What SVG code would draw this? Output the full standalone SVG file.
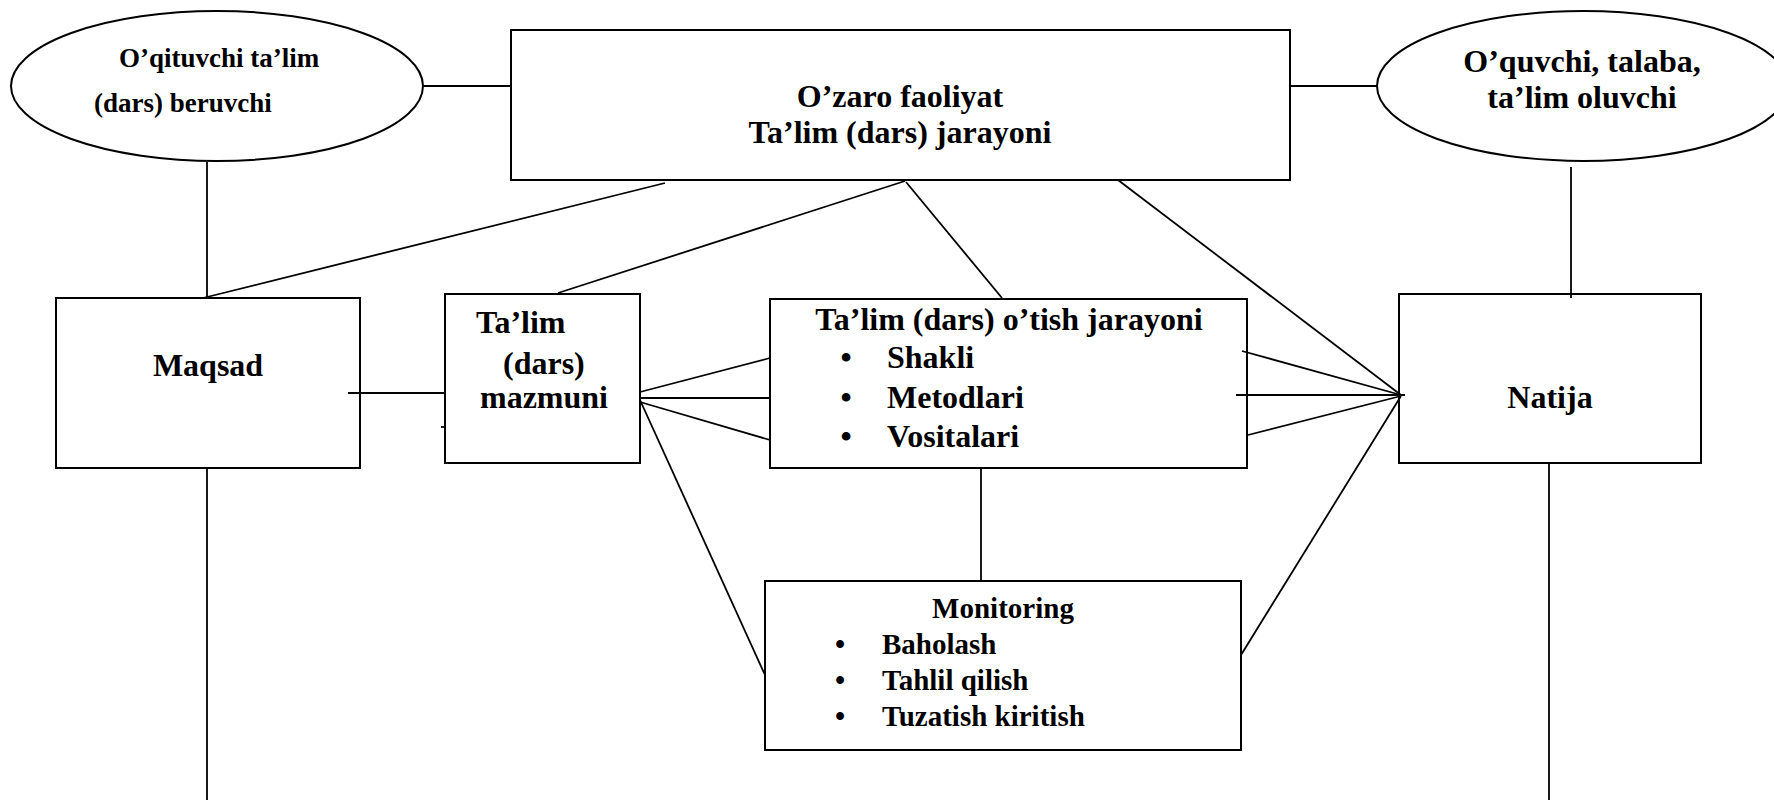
<svg xmlns="http://www.w3.org/2000/svg" width="1774" height="800" viewBox="0 0 1774 800">
<style>
.box{fill:#fff;stroke:#000;stroke-width:2}
.ln{stroke:#000;stroke-width:1.8;fill:none}
.t{font-family:"Liberation Serif","Times New Roman",serif;font-weight:bold;fill:#000}
.s32{font-size:32px}
.s27{font-size:27px}
.s29{font-size:29px}
.mid{text-anchor:middle}
</style>
<rect width="1774" height="800" fill="#fff"/>
<g id="teacher">
<ellipse class="box" cx="217" cy="86" rx="206" ry="75"/>
<text class="t s27" x="119" y="67">O’qituvchi ta’lim</text>
<text class="t s27" x="94" y="112">(dars) beruvchi</text>
</g>
<g id="process">
<rect class="box" x="511" y="30" width="779" height="150"/>
<text class="t s32 mid" x="900" y="107">O’zaro faoliyat</text>
<text class="t s32 mid" x="900" y="143">Ta’lim (dars) jarayoni</text>
</g>
<g id="student">
<ellipse class="box" cx="1583" cy="86" rx="206" ry="75"/>
<text class="t s32 mid" x="1582" y="72">O’quvchi, talaba,</text>
<text class="t s32 mid" x="1582" y="108">ta’lim oluvchi</text>
</g>
<g id="maqsad">
<rect class="box" x="56" y="298" width="304" height="170"/>
<text class="t s32 mid" x="208" y="376">Maqsad</text>
</g>
<g id="mazmun">
<rect class="box" x="445" y="294" width="195" height="169"/>
<text class="t s32" x="476" y="333">Ta’lim</text>
<text class="t s32" x="503" y="374">(dars)</text>
<text class="t s32" x="480" y="408">mazmuni</text>
</g>
<g id="otish">
<rect class="box" x="770" y="299" width="477" height="169"/>
<text class="t s32 mid" x="1009" y="330">Ta’lim (dars) o’tish jarayoni</text>
<text class="t s32 mid" x="846" y="368">•</text>
<text class="t s32 mid" x="846" y="408">•</text>
<text class="t s32 mid" x="846" y="447">•</text>
<text class="t s32" x="887" y="368">Shakli</text>
<text class="t s32" x="887" y="408">Metodlari</text>
<text class="t s32" x="887" y="447">Vositalari</text>
</g>
<g id="natija">
<rect class="box" x="1399" y="294" width="302" height="169"/>
<text class="t s32 mid" x="1550" y="408">Natija</text>
</g>
<g id="monitoring">
<rect class="box" x="765" y="581" width="476" height="169"/>
<text class="t s29 mid" x="1003" y="618">Monitoring</text>
<text class="t s29 mid" x="840" y="654">•</text>
<text class="t s29 mid" x="840" y="690">•</text>
<text class="t s29 mid" x="840" y="726">•</text>
<text class="t s29" x="882" y="654">Baholash</text>
<text class="t s29" x="882" y="690">Tahlil qilish</text>
<text class="t s29" x="882" y="726">Tuzatish kiritish</text>
</g>
<g id="connectors">
<line class="ln" x1="424" y1="86" x2="511" y2="86"/>
<line class="ln" x1="1290" y1="86" x2="1377" y2="86"/>
<line class="ln" x1="207" y1="162" x2="207" y2="298"/>
<line class="ln" x1="1571" y1="167" x2="1571" y2="298"/>
<line class="ln" x1="207" y1="468" x2="207" y2="800"/>
<line class="ln" x1="1549" y1="463" x2="1549" y2="800"/>
<line class="ln" x1="665" y1="183" x2="203" y2="298"/>
<line class="ln" x1="905" y1="181" x2="558" y2="293"/>
<line class="ln" x1="906" y1="182" x2="1002" y2="298"/>
<line class="ln" x1="1118" y1="180" x2="1401" y2="395"/>
<line class="ln" x1="348" y1="393" x2="445" y2="393"/>
<line class="ln" x1="441" y1="427" x2="446" y2="427"/>
<line class="ln" x1="640" y1="392" x2="770" y2="358"/>
<line class="ln" x1="640" y1="398" x2="770" y2="398"/>
<line class="ln" x1="640" y1="402" x2="770" y2="440"/>
<line class="ln" x1="640" y1="400" x2="765" y2="675"/>
<line class="ln" x1="1242" y1="351" x2="1401" y2="395"/>
<line class="ln" x1="1236" y1="395" x2="1405" y2="395"/>
<line class="ln" x1="1248" y1="435" x2="1401" y2="396"/>
<line class="ln" x1="1241" y1="655" x2="1401" y2="396"/>
<line class="ln" x1="981" y1="468" x2="981" y2="581"/>
</g>
</svg>
